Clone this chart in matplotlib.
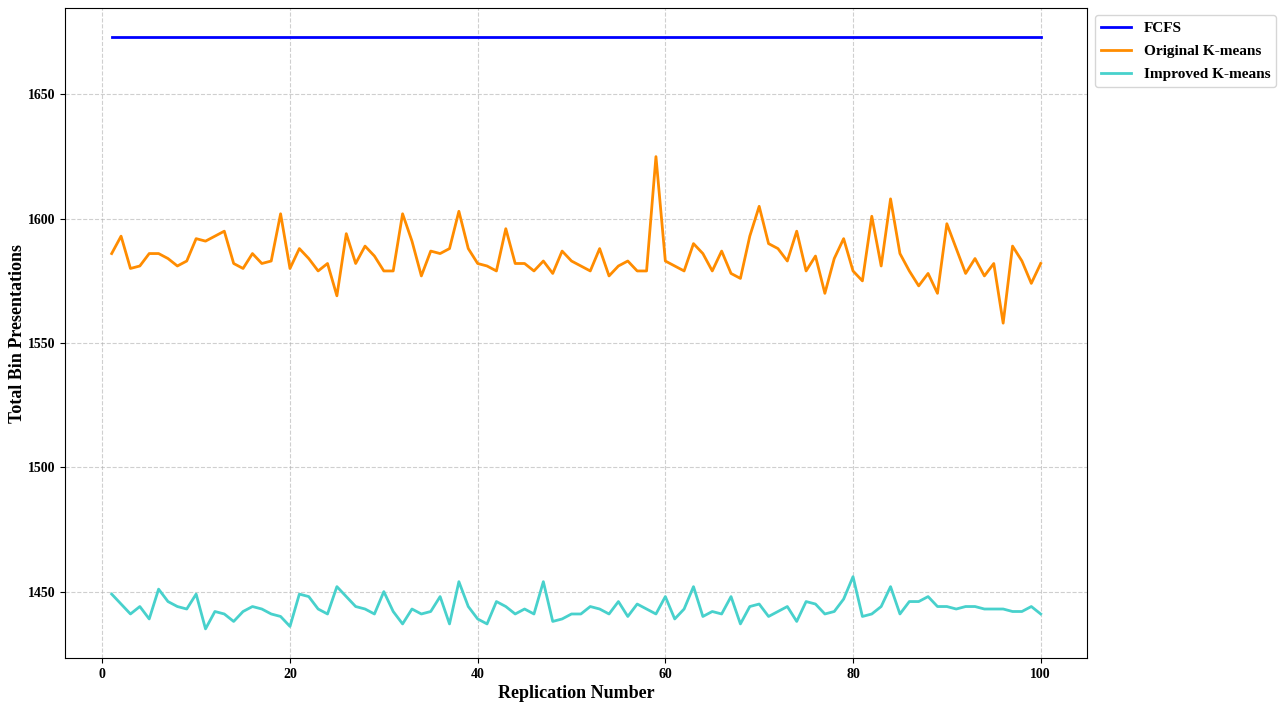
import matplotlib
matplotlib.use("Agg")
import matplotlib.pyplot as plt
import numpy as np

plt.rcParams["font.family"] = ["Liberation Serif", "DejaVu Serif"]
plt.rcParams["font.weight"] = "bold"

replications = np.arange(1, 101)

fcfs = [1673] * 100

original_kmeans = [
    1586, 1593, 1580, 1581, 1586, 1586, 1584, 1581, 1583, 1592,
    1591, 1593, 1595, 1582, 1580, 1586, 1582, 1583, 1602, 1580,
    1588, 1584, 1579, 1582, 1569, 1594, 1582, 1589, 1585, 1579,
    1579, 1602, 1591, 1577, 1587, 1586, 1588, 1603, 1588, 1582,
    1581, 1579, 1596, 1582, 1582, 1579, 1583, 1578, 1587, 1583,
    1581, 1579, 1588, 1577, 1581, 1583, 1579, 1579, 1625, 1583,
    1581, 1579, 1590, 1586, 1579, 1587, 1578, 1576, 1593, 1605,
    1590, 1588, 1583, 1595, 1579, 1585, 1570, 1584, 1592, 1579,
    1575, 1601, 1581, 1608, 1586, 1579, 1573, 1578, 1570, 1598,
    1588, 1578, 1584, 1577, 1582, 1558, 1589, 1583, 1574, 1582,
]

improved_kmeans = [
    1449, 1445, 1441, 1444, 1439, 1451, 1446, 1444, 1443, 1449,
    1435, 1442, 1441, 1438, 1442, 1444, 1443, 1441, 1440, 1436,
    1449, 1448, 1443, 1441, 1452, 1448, 1444, 1443, 1441, 1450,
    1442, 1437, 1443, 1441, 1442, 1448, 1437, 1454, 1444, 1439,
    1437, 1446, 1444, 1441, 1443, 1441, 1454, 1438, 1439, 1441,
    1441, 1444, 1443, 1441, 1446, 1440, 1445, 1443, 1441, 1448,
    1439, 1443, 1452, 1440, 1442, 1441, 1448, 1437, 1444, 1445,
    1440, 1442, 1444, 1438, 1446, 1445, 1441, 1442, 1447, 1456,
    1440, 1441, 1444, 1452, 1441, 1446, 1446, 1448, 1444, 1444,
    1443, 1444, 1444, 1443, 1443, 1443, 1442, 1442, 1444, 1441,
]

fig = plt.figure(figsize=(12.79, 7.02), dpi=100)
ax = fig.add_axes([0.051, 0.062, 0.799, 0.927])

ax.plot(replications, fcfs, color="blue", linewidth=2, label="FCFS")
ax.plot(replications, original_kmeans, color="darkorange", linewidth=2, label="Original K-means")
ax.plot(replications, improved_kmeans, color="mediumturquoise", linewidth=2, label="Improved K-means")

ax.set_xlabel("Replication Number", fontsize=13, fontweight="bold", labelpad=3)
ax.set_ylabel("Total Bin Presentations", fontsize=13, fontweight="bold", labelpad=1)
ax.set_yticks([1450, 1500, 1550, 1600, 1650])
ax.set_xticks([0, 20, 40, 60, 80, 100])
ax.tick_params(labelsize=10)
for lbl in ax.get_xticklabels() + ax.get_yticklabels():
    lbl.set_fontweight("bold")

ax.grid(True, linestyle="--", alpha=0.6)
ax.legend(loc="upper left", bbox_to_anchor=(1.0, 1.0), labelspacing=0.6,
          prop={"weight": "bold", "size": 11})

fig.savefig("out.png", dpi=100)
